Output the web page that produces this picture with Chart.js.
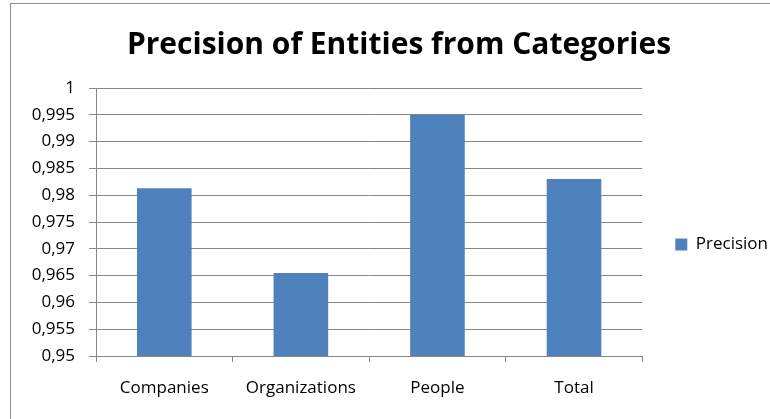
<!DOCTYPE html>
<html>
<head>
<meta charset="utf-8">
<script src="https://cdn.jsdelivr.net/npm/chart.js@4/dist/chart.umd.min.js"></script>
<style>
  html, body { margin: 0; padding: 0; background: #fff; overflow: hidden; }
  #frame {
    position: absolute; left: 10px; top: 3px;
    width: 800px; height: 450px;
    border: 1px solid #8e8e8e; box-sizing: border-box;
  }
  #wrap { position: absolute; left: 0; top: 0; width: 770px; height: 419px; }
</style>
</head>
<body>
<div id="frame"></div>
<div id="wrap"><canvas id="precision-chart" width="770" height="419"></canvas></div>
<script>
var categories = ['Companies', 'Organizations', 'People', 'Total'];
var precision = [0.9813, 0.9655, 0.995, 0.983];
var yMin = 0.95, yMax = 1, yStep = 0.005;

var gridGray = '#878787';
var font = "'Open Sans', 'DejaVu Sans', sans-serif";

// decimal comma, trailing zeros dropped: 0,995 / 0,99 / 1
function commaTick(v) {
  return String(Number(v.toFixed(3))).replace('.', ',');
}

var ctx = document.getElementById('precision-chart').getContext('2d');
var chart = new Chart(ctx, {
  type: 'bar',
  data: {
    labels: categories,
    datasets: [{
      label: 'Precision',
      data: precision,
      backgroundColor: '#4f81bd',
      borderWidth: 0,
      categoryPercentage: 1,
      barPercentage: 0.4
    }]
  },
  options: {
    responsive: false,
    animation: false,
    events: [],
    layout: { padding: { left: 20, right: -8, top: 27, bottom: 0 } },
    plugins: {
      title: {
        display: true,
        text: 'Precision of Entities from Categories',
        color: '#000',
        font: { family: font, size: 30, weight: 'bold' },
        padding: { top: 0, bottom: 25 }
      },
      legend: {
        position: 'right',
        // empty legend title pushes the single entry a bit below the middle
        title: { display: true, text: ' ', font: { size: 10 }, padding: { top: 0, bottom: 31 } },
        labels: {
          color: '#000',
          font: { family: font, size: 17 },
          boxWidth: 12,
          boxHeight: 12,
          padding: 33
        }
      },
      tooltip: { enabled: false }
    },
    scales: {
      x: {
        offset: true,
        grid: {
          offset: true,
          drawOnChartArea: false,
          drawTicks: true,
          tickLength: 6,
          color: gridGray
        },
        border: { color: gridGray },
        ticks: { color: '#000', font: { family: font, size: 17 }, padding: 16 },
        afterFit: function(scale) { scale.height = 63; }
      },
      y: {
        min: yMin,
        max: yMax,
        grid: { color: gridGray, tickLength: 7 },
        border: { color: gridGray },
        ticks: {
          stepSize: yStep,
          color: '#000',
          font: { family: font, size: 17 },
          padding: 14,
          callback: function(v) { return commaTick(v); }
        },
        afterFit: function(scale) { scale.width = 76; }
      }
    }
  }
});
</script>
</body>
</html>
